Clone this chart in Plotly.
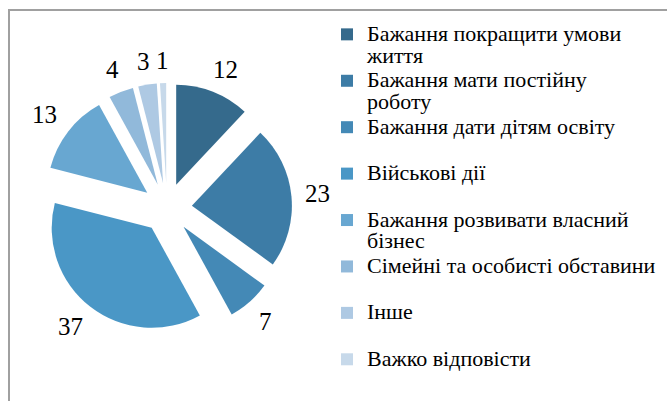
import math
import plotly.graph_objects as go

categories = [
    "Бажання покращити умови життя",
    "Бажання мати постійну роботу",
    "Бажання дати дітям освіту",
    "Військові дії",
    "Бажання розвивати власний бізнес",
    "Сімейні та особисті обставини",
    "Інше",
    "Важко відповісти",
]
# legend text lines as wrapped in the reference (second line may be empty)
legend_lines = [
    ["Бажання покращити умови", "життя"],
    ["Бажання мати постійну", "роботу"],
    ["Бажання дати дітям освіту", "&nbsp;"],
    ["Військові дії", "&nbsp;"],
    ["Бажання розвивати власний", "бізнес"],
    ["Сімейні та особисті обставини", "&nbsp;"],
    ["Інше", "&nbsp;"],
    ["Важко відповісти", "&nbsp;"],
]
values = [12, 23, 7, 37, 13, 4, 3, 1]
colors = ["#356a8c", "#3d7ca6", "#4489b6", "#4a97c6",
          "#68a7d1", "#91b9da", "#aec9e3", "#c7d9ea"]

W, H = 667, 401
cx, cy, box = 167, 208, 250
pull = 0.25
label_gap = 14
label_size = 25
legend_glyph = 22      # rendered glyph size of legend text
legend_spacing = 16.7  # legend font size that drives the line spacing

legend_labels = [
    "<br>".join(f"<span style='font-size:{legend_glyph}px'>{t}</span>" for t in lines)
    for lines in legend_lines
]

fig = go.Figure(go.Pie(
    labels=legend_labels,
    values=values,
    customdata=categories,
    sort=False,
    direction="clockwise",
    rotation=0,
    pull=pull,
    marker=dict(colors=colors, line=dict(width=0)),
    textinfo="none",
    hovertemplate="%{customdata}: %{value}<extra></extra>",
    domain=dict(x=[(cx - box / 2) / W, (cx + box / 2) / W],
                y=[(H - cy - box / 2) / H, (H - cy + box / 2) / H]),
))

# value labels placed just outside each pulled slice, along its bisector
r_outer = box / 2  # radius + pull offset
total = sum(values)
annotations = []
cum = 0
for v in values:
    mid = (cum + v / 2) / total * 2 * math.pi
    cum += v
    ux, uy = math.sin(mid), math.cos(mid)
    hw = 0.25 * label_size * len(str(v))
    hh = 9
    clamp = lambda a: max(-1.0, min(1.0, a))
    px = cx + (r_outer + label_gap) * ux + hw * clamp(1.5 * ux)
    py_up = (H - cy) + (r_outer + label_gap) * uy + hh * clamp(1.5 * uy)
    annotations.append(dict(
        x=px / W, y=py_up / H,
        xref="paper", yref="paper", text=str(v), showarrow=False,
        xanchor="center", yanchor="middle",
        font=dict(family="Liberation Serif", size=label_size, color="#000000"),
    ))

fig.update_layout(
    width=W, height=H,
    margin=dict(l=0, r=0, t=0, b=0),
    paper_bgcolor="white",
    plot_bgcolor="white",
    font=dict(family="Liberation Serif", color="#000000"),
    annotations=annotations,
    legend=dict(
        x=327 / W, xanchor="left",
        y=1 - 17 / H, yanchor="top",
        font=dict(family="Liberation Serif", size=legend_spacing, color="#000000"),
        valign="top",
        bgcolor="rgba(0,0,0,0)",
        traceorder="normal",
    ),
    shapes=[dict(type="rect", xref="paper", yref="paper",
                 x0=9 / W, x1=1.2, y0=-0.2, y1=1 - 10 / H,
                 line=dict(color="#a0a0a0", width=2), layer="below")],
)

fig.write_html("out.html",
               config={"displayModeBar": False},
               post_script="document.body.style.margin='0';document.body.style.overflow='hidden';")
